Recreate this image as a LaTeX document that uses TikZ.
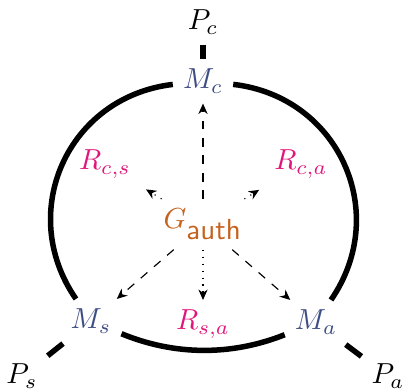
\documentclass[tikz,border=0pt]{standalone}
\usetikzlibrary{arrows.meta}
\definecolor{mcol}{HTML}{3E4E84}
\definecolor{rcol}{HTML}{E0177A}
\definecolor{gcol}{HTML}{C4621E}
\begin{document}
\begin{tikzpicture}[x=0.345pt,y=0.345pt,
  lbl/.style={anchor=base},
  mnode/.style={lbl,text=mcol},
  rnode/.style={lbl,text=rcol},
  gnode/.style={lbl,text=gcol},
  heavy/.style={line width=1.9pt},
  dasharrow/.style={dashed,line width=0.4pt,-{Stealth[length=3.6pt,width=3.2pt]}},
  dotarrow/.style={dotted,line width=0.4pt,-{Stealth[length=3.6pt,width=3.2pt]}}]
\useasboundingbox (0,0) rectangle (404,391);
\node[lbl] (Pc) at (203,361) {$P_c$};
\node[mnode] (Mc) at (203,302) {$M_c$};
\node[gnode] (G) at (203,162) {$G_{\textsf{auth}}$};
\node[rnode] (Rcs) at (105,221) {$R_{c,s}$};
\node[rnode] (Rca) at (301,221) {$R_{c,a}$};
\node[mnode] (Ms) at (91,62) {$M_s$};
\node[rnode] (Rsa) at (203,61) {$R_{s,a}$};
\node[mnode] (Ma) at (316,61) {$M_a$};
\node[lbl] (Ps) at (22,7) {$P_s$};
\node[lbl] (Pa) at (388,7) {$P_a$};
\draw[heavy] (Pc) -- (Mc);
\draw[heavy] (Ps) -- (Ms);
\draw[heavy] (Pa) -- (Ma);
\draw[heavy] (Mc) to[bend right=59,looseness=1.15] (Ms);
\draw[heavy] (Mc) to[bend left=59,looseness=1.15] (Ma);
\draw[heavy] (Ms) to[bend right=22,looseness=0.9] (Ma);
\draw[dasharrow] (G) -- (Mc);
\draw[dasharrow] (G) -- (Ms);
\draw[dasharrow] (G) -- (Ma);
\draw[dotarrow] (G) -- (Rsa);
\draw[dotarrow,shorten >=2pt] (G) -- (Rcs);
\draw[dotarrow,shorten >=2pt] (G) -- (Rca);
\end{tikzpicture}
\end{document}
